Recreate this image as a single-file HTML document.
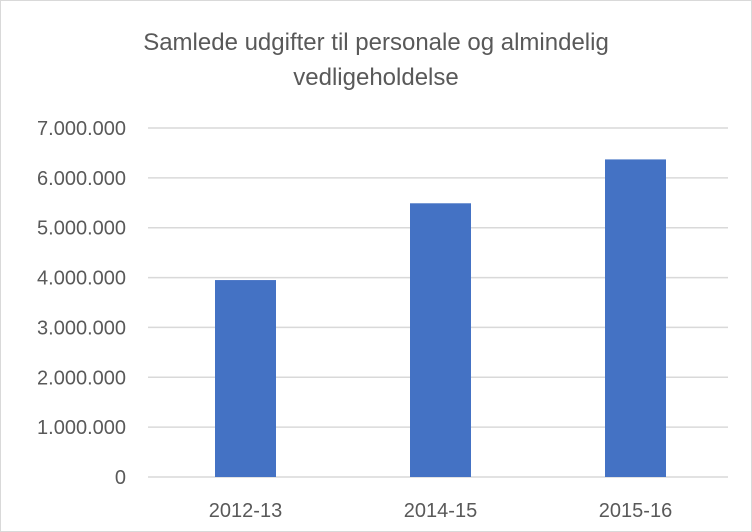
<!DOCTYPE html>
<html><head><meta charset="utf-8"><style>
body{margin:0;background:#fff}
svg{display:block;font-family:"Liberation Sans","DejaVu Sans",sans-serif}
</style></head><body>
<svg id="chart" width="752" height="532">
<rect x="0.5" y="0.5" width="751" height="531" fill="#fff" stroke="#d9d9d9"/>
<text x="376" y="50" text-anchor="middle" font-size="24" fill="#595959">Samlede udgifter til personale og almindelig</text>
<text x="376" y="85" text-anchor="middle" font-size="24" fill="#595959">vedligeholdelse</text>
<g id="grid"></g><g id="bars"></g><g id="ylabels"></g><g id="xlabels"></g>
</svg>
<script>
const categories = ["2012-13","2014-15","2015-16"];
const values = [3950000,5490000,6370000];
const yTicks = [0,1000000,2000000,3000000,4000000,5000000,6000000,7000000];
const yTickLabels = ["0","1.000.000","2.000.000","3.000.000","4.000.000","5.000.000","6.000.000","7.000.000"];
const NS="http://www.w3.org/2000/svg";
const plotL=148, plotR=733, y0=477, yTop=128, yMax=7000000;
const band=(plotR-plotL)/categories.length, barW=61;
function y(v){return y0-(v/yMax)*(y0-yTop);}
function x(i){return plotL+band*i+band/2;}
function mk(t,a,p){const e=document.createElementNS(NS,t);for(const k in a)e.setAttribute(k,a[k]);p.appendChild(e);return e;}
const grid=document.getElementById('grid'),bars=document.getElementById('bars'),yl=document.getElementById('ylabels'),xl=document.getElementById('xlabels');
yTicks.forEach((t,i)=>{
 const l=mk('line',{x1:plotL,x2:728,y1:y(t),y2:y(t),stroke:'#d9d9d9','stroke-width':1.5},grid);
 
 
 const tx=mk('text',{x:126,y:y(t)+7,'text-anchor':'end','font-size':20,fill:'#595959'},yl);
 tx.textContent=yTickLabels[i];
 
 
});
values.forEach((v,i)=>{
 const r=mk('rect',{x:x(i)-barW/2,y:y(v),width:barW,height:y0-y(v),fill:'#4472c4'},bars);
 
 
 const tx=mk('text',{x:x(i),y:517,'text-anchor':'middle','font-size':20,fill:'#595959'},xl);
 tx.textContent=categories[i];
 
 
});
</script>
</body></html>
